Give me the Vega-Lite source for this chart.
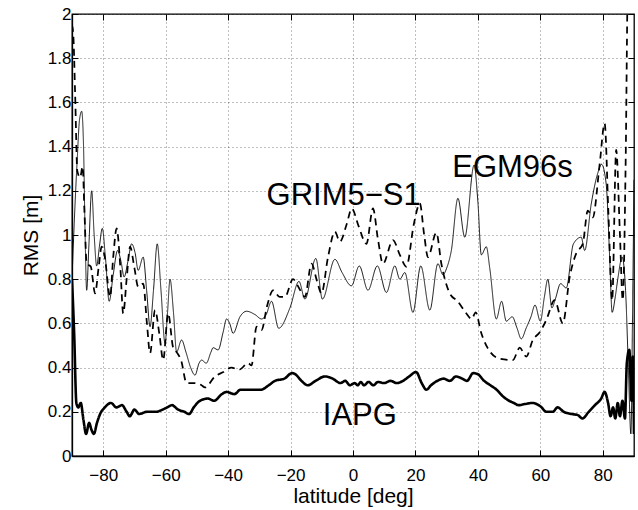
{
  "$schema": "https://vega.github.io/schema/vega-lite/v6.json",
  "width": 562,
  "height": 442,
  "autosize": {"type": "none"},
  "padding": {"left": 72, "top": 14, "right": 4, "bottom": 54},
  "background": "white",
  "config": {
    "view": {"stroke": "black", "strokeWidth": 1.3},
    "font": "Liberation Sans"
  },
  "datasets": {
    "curves": [
      {"lat": -90, "rms": 0.80, "model": "EGM96s"},
      {"lat": -89.3, "rms": 1.05, "model": "EGM96s"},
      {"lat": -88.3, "rms": 1.35, "model": "EGM96s"},
      {"lat": -87.6, "rms": 1.52, "model": "EGM96s"},
      {"lat": -86.9, "rms": 1.56, "model": "EGM96s"},
      {"lat": -86.3, "rms": 1.40, "model": "EGM96s"},
      {"lat": -85.8, "rms": 1.00, "model": "EGM96s"},
      {"lat": -85.3, "rms": 0.75, "model": "EGM96s"},
      {"lat": -84.6, "rms": 0.95, "model": "EGM96s"},
      {"lat": -83.7, "rms": 1.20, "model": "EGM96s"},
      {"lat": -82.9, "rms": 1.00, "model": "EGM96s"},
      {"lat": -82.1, "rms": 0.86, "model": "EGM96s"},
      {"lat": -81.2, "rms": 0.95, "model": "EGM96s"},
      {"lat": -80.3, "rms": 1.03, "model": "EGM96s"},
      {"lat": -79.3, "rms": 0.90, "model": "EGM96s"},
      {"lat": -78.1, "rms": 0.70, "model": "EGM96s"},
      {"lat": -76.8, "rms": 0.82, "model": "EGM96s"},
      {"lat": -75.4, "rms": 0.93, "model": "EGM96s"},
      {"lat": -74.3, "rms": 0.88, "model": "EGM96s"},
      {"lat": -73.3, "rms": 0.81, "model": "EGM96s"},
      {"lat": -72.1, "rms": 0.88, "model": "EGM96s"},
      {"lat": -70.9, "rms": 0.96, "model": "EGM96s"},
      {"lat": -69.8, "rms": 0.92, "model": "EGM96s"},
      {"lat": -68.8, "rms": 0.84, "model": "EGM96s"},
      {"lat": -67.2, "rms": 0.90, "model": "EGM96s"},
      {"lat": -66.1, "rms": 0.75, "model": "EGM96s"},
      {"lat": -65.0, "rms": 0.585, "model": "EGM96s"},
      {"lat": -63.9, "rms": 0.75, "model": "EGM96s"},
      {"lat": -62.7, "rms": 0.96, "model": "EGM96s"},
      {"lat": -61.5, "rms": 0.75, "model": "EGM96s"},
      {"lat": -60.2, "rms": 0.51, "model": "EGM96s"},
      {"lat": -59.4, "rms": 0.65, "model": "EGM96s"},
      {"lat": -58.6, "rms": 0.80, "model": "EGM96s"},
      {"lat": -57.5, "rms": 0.65, "model": "EGM96s"},
      {"lat": -56.5, "rms": 0.47, "model": "EGM96s"},
      {"lat": -54.9, "rms": 0.525, "model": "EGM96s"},
      {"lat": -53.5, "rms": 0.47, "model": "EGM96s"},
      {"lat": -52.0, "rms": 0.40, "model": "EGM96s"},
      {"lat": -50.6, "rms": 0.366, "model": "EGM96s"},
      {"lat": -49.3, "rms": 0.42, "model": "EGM96s"},
      {"lat": -48.5, "rms": 0.434, "model": "EGM96s"},
      {"lat": -47.0, "rms": 0.42, "model": "EGM96s"},
      {"lat": -45.5, "rms": 0.47, "model": "EGM96s"},
      {"lat": -44.8, "rms": 0.49, "model": "EGM96s"},
      {"lat": -43.2, "rms": 0.48, "model": "EGM96s"},
      {"lat": -41.6, "rms": 0.56, "model": "EGM96s"},
      {"lat": -40.5, "rms": 0.62, "model": "EGM96s"},
      {"lat": -39.5, "rms": 0.60, "model": "EGM96s"},
      {"lat": -38.4, "rms": 0.555, "model": "EGM96s"},
      {"lat": -36.2, "rms": 0.63, "model": "EGM96s"},
      {"lat": -34.1, "rms": 0.655, "model": "EGM96s"},
      {"lat": -31.4, "rms": 0.64, "model": "EGM96s"},
      {"lat": -29.3, "rms": 0.62, "model": "EGM96s"},
      {"lat": -27.8, "rms": 0.64, "model": "EGM96s"},
      {"lat": -26.1, "rms": 0.70, "model": "EGM96s"},
      {"lat": -23.8, "rms": 0.578, "model": "EGM96s"},
      {"lat": -20.2, "rms": 0.67, "model": "EGM96s"},
      {"lat": -17.3, "rms": 0.79, "model": "EGM96s"},
      {"lat": -15.4, "rms": 0.71, "model": "EGM96s"},
      {"lat": -11.9, "rms": 0.894, "model": "EGM96s"},
      {"lat": -9.8, "rms": 0.71, "model": "EGM96s"},
      {"lat": -5.8, "rms": 0.89, "model": "EGM96s"},
      {"lat": -3.5, "rms": 0.83, "model": "EGM96s"},
      {"lat": -0.5, "rms": 0.77, "model": "EGM96s"},
      {"lat": 2.0, "rms": 0.86, "model": "EGM96s"},
      {"lat": 4.8, "rms": 0.75, "model": "EGM96s"},
      {"lat": 7.8, "rms": 0.86, "model": "EGM96s"},
      {"lat": 10.7, "rms": 0.74, "model": "EGM96s"},
      {"lat": 13.4, "rms": 0.86, "model": "EGM96s"},
      {"lat": 15.0, "rms": 0.80, "model": "EGM96s"},
      {"lat": 16.6, "rms": 0.83, "model": "EGM96s"},
      {"lat": 19.2, "rms": 0.65, "model": "EGM96s"},
      {"lat": 21.7, "rms": 0.86, "model": "EGM96s"},
      {"lat": 24.6, "rms": 0.66, "model": "EGM96s"},
      {"lat": 27.2, "rms": 0.87, "model": "EGM96s"},
      {"lat": 28.8, "rms": 0.82, "model": "EGM96s"},
      {"lat": 30.0, "rms": 0.85, "model": "EGM96s"},
      {"lat": 31.5, "rms": 0.93, "model": "EGM96s"},
      {"lat": 33.6, "rms": 1.166, "model": "EGM96s"},
      {"lat": 35.8, "rms": 0.99, "model": "EGM96s"},
      {"lat": 38.8, "rms": 1.317, "model": "EGM96s"},
      {"lat": 40.0, "rms": 1.15, "model": "EGM96s"},
      {"lat": 41.1, "rms": 0.91, "model": "EGM96s"},
      {"lat": 42.7, "rms": 0.947, "model": "EGM96s"},
      {"lat": 43.8, "rms": 0.85, "model": "EGM96s"},
      {"lat": 45.9, "rms": 0.62, "model": "EGM96s"},
      {"lat": 47.6, "rms": 0.70, "model": "EGM96s"},
      {"lat": 49.1, "rms": 0.61, "model": "EGM96s"},
      {"lat": 51.0, "rms": 0.63, "model": "EGM96s"},
      {"lat": 52.5, "rms": 0.58, "model": "EGM96s"},
      {"lat": 53.9, "rms": 0.53, "model": "EGM96s"},
      {"lat": 55.5, "rms": 0.58, "model": "EGM96s"},
      {"lat": 57.0, "rms": 0.63, "model": "EGM96s"},
      {"lat": 58.3, "rms": 0.683, "model": "EGM96s"},
      {"lat": 60.0, "rms": 0.61, "model": "EGM96s"},
      {"lat": 61.3, "rms": 0.72, "model": "EGM96s"},
      {"lat": 62.4, "rms": 0.80, "model": "EGM96s"},
      {"lat": 63.7, "rms": 0.67, "model": "EGM96s"},
      {"lat": 64.8, "rms": 0.71, "model": "EGM96s"},
      {"lat": 66.5, "rms": 0.78, "model": "EGM96s"},
      {"lat": 68.3, "rms": 0.76, "model": "EGM96s"},
      {"lat": 70.6, "rms": 0.96, "model": "EGM96s"},
      {"lat": 73.1, "rms": 0.99, "model": "EGM96s"},
      {"lat": 74.2, "rms": 0.93, "model": "EGM96s"},
      {"lat": 76.3, "rms": 1.14, "model": "EGM96s"},
      {"lat": 78.4, "rms": 1.28, "model": "EGM96s"},
      {"lat": 79.6, "rms": 1.32, "model": "EGM96s"},
      {"lat": 81.1, "rms": 1.23, "model": "EGM96s"},
      {"lat": 82.2, "rms": 0.90, "model": "EGM96s"},
      {"lat": 83.0, "rms": 0.65, "model": "EGM96s"},
      {"lat": 84.0, "rms": 0.72, "model": "EGM96s"},
      {"lat": 84.9, "rms": 0.81, "model": "EGM96s"},
      {"lat": 86.2, "rms": 0.90, "model": "EGM96s"},
      {"lat": 87.3, "rms": 0.75, "model": "EGM96s"},
      {"lat": 88.2, "rms": 0.40, "model": "EGM96s"},
      {"lat": 89.0, "rms": 0.10, "model": "EGM96s"},
      {"lat": 89.5, "rms": 0.60, "model": "EGM96s"},
      {"lat": 90.0, "rms": 1.25, "model": "EGM96s"},

      {"lat": -90, "rms": 1.95, "model": "GRIM5-S1"},
      {"lat": -89.6, "rms": 1.91, "model": "GRIM5-S1"},
      {"lat": -89.0, "rms": 1.64, "model": "GRIM5-S1"},
      {"lat": -88.3, "rms": 1.29, "model": "GRIM5-S1"},
      {"lat": -87.4, "rms": 1.26, "model": "GRIM5-S1"},
      {"lat": -86.6, "rms": 1.31, "model": "GRIM5-S1"},
      {"lat": -86.0, "rms": 1.10, "model": "GRIM5-S1"},
      {"lat": -85.3, "rms": 0.87, "model": "GRIM5-S1"},
      {"lat": -84.0, "rms": 0.857, "model": "GRIM5-S1"},
      {"lat": -82.6, "rms": 0.736, "model": "GRIM5-S1"},
      {"lat": -81.5, "rms": 0.85, "model": "GRIM5-S1"},
      {"lat": -80.5, "rms": 0.947, "model": "GRIM5-S1"},
      {"lat": -79.5, "rms": 0.90, "model": "GRIM5-S1"},
      {"lat": -77.8, "rms": 0.72, "model": "GRIM5-S1"},
      {"lat": -76.8, "rms": 0.90, "model": "GRIM5-S1"},
      {"lat": -75.7, "rms": 1.03, "model": "GRIM5-S1"},
      {"lat": -74.5, "rms": 0.85, "model": "GRIM5-S1"},
      {"lat": -73.6, "rms": 0.645, "model": "GRIM5-S1"},
      {"lat": -72.5, "rms": 0.80, "model": "GRIM5-S1"},
      {"lat": -71.4, "rms": 0.947, "model": "GRIM5-S1"},
      {"lat": -70.0, "rms": 0.85, "model": "GRIM5-S1"},
      {"lat": -68.8, "rms": 0.766, "model": "GRIM5-S1"},
      {"lat": -67.2, "rms": 0.78, "model": "GRIM5-S1"},
      {"lat": -66.0, "rms": 0.60, "model": "GRIM5-S1"},
      {"lat": -65.0, "rms": 0.465, "model": "GRIM5-S1"},
      {"lat": -63.4, "rms": 0.66, "model": "GRIM5-S1"},
      {"lat": -62.0, "rms": 0.55, "model": "GRIM5-S1"},
      {"lat": -60.8, "rms": 0.434, "model": "GRIM5-S1"},
      {"lat": -59.2, "rms": 0.645, "model": "GRIM5-S1"},
      {"lat": -57.6, "rms": 0.49, "model": "GRIM5-S1"},
      {"lat": -56.5, "rms": 0.47, "model": "GRIM5-S1"},
      {"lat": -55.0, "rms": 0.43, "model": "GRIM5-S1"},
      {"lat": -53.3, "rms": 0.33, "model": "GRIM5-S1"},
      {"lat": -50.6, "rms": 0.33, "model": "GRIM5-S1"},
      {"lat": -48.5, "rms": 0.32, "model": "GRIM5-S1"},
      {"lat": -47.4, "rms": 0.31, "model": "GRIM5-S1"},
      {"lat": -44.2, "rms": 0.36, "model": "GRIM5-S1"},
      {"lat": -41.5, "rms": 0.38, "model": "GRIM5-S1"},
      {"lat": -38.9, "rms": 0.40, "model": "GRIM5-S1"},
      {"lat": -36.5, "rms": 0.39, "model": "GRIM5-S1"},
      {"lat": -33.6, "rms": 0.42, "model": "GRIM5-S1"},
      {"lat": -32.5, "rms": 0.41, "model": "GRIM5-S1"},
      {"lat": -30.9, "rms": 0.585, "model": "GRIM5-S1"},
      {"lat": -29.3, "rms": 0.57, "model": "GRIM5-S1"},
      {"lat": -27.5, "rms": 0.68, "model": "GRIM5-S1"},
      {"lat": -25.6, "rms": 0.75, "model": "GRIM5-S1"},
      {"lat": -23.5, "rms": 0.72, "model": "GRIM5-S1"},
      {"lat": -21.8, "rms": 0.72, "model": "GRIM5-S1"},
      {"lat": -19.2, "rms": 0.80, "model": "GRIM5-S1"},
      {"lat": -17.3, "rms": 0.76, "model": "GRIM5-S1"},
      {"lat": -15.4, "rms": 0.72, "model": "GRIM5-S1"},
      {"lat": -13.3, "rms": 0.87, "model": "GRIM5-S1"},
      {"lat": -11.5, "rms": 0.79, "model": "GRIM5-S1"},
      {"lat": -10.1, "rms": 0.736, "model": "GRIM5-S1"},
      {"lat": -8.0, "rms": 0.90, "model": "GRIM5-S1"},
      {"lat": -5.8, "rms": 1.015, "model": "GRIM5-S1"},
      {"lat": -4.2, "rms": 0.97, "model": "GRIM5-S1"},
      {"lat": -2.0, "rms": 1.05, "model": "GRIM5-S1"},
      {"lat": -0.4, "rms": 1.12, "model": "GRIM5-S1"},
      {"lat": 1.8, "rms": 1.04, "model": "GRIM5-S1"},
      {"lat": 4.3, "rms": 0.96, "model": "GRIM5-S1"},
      {"lat": 6.4, "rms": 1.12, "model": "GRIM5-S1"},
      {"lat": 8.0, "rms": 0.98, "model": "GRIM5-S1"},
      {"lat": 9.6, "rms": 0.87, "model": "GRIM5-S1"},
      {"lat": 12.8, "rms": 0.977, "model": "GRIM5-S1"},
      {"lat": 15.0, "rms": 0.91, "model": "GRIM5-S1"},
      {"lat": 17.1, "rms": 0.857, "model": "GRIM5-S1"},
      {"lat": 19.5, "rms": 1.05, "model": "GRIM5-S1"},
      {"lat": 21.4, "rms": 1.143, "model": "GRIM5-S1"},
      {"lat": 22.8, "rms": 1.0, "model": "GRIM5-S1"},
      {"lat": 24.0, "rms": 0.90, "model": "GRIM5-S1"},
      {"lat": 26.7, "rms": 1.01, "model": "GRIM5-S1"},
      {"lat": 28.3, "rms": 0.87, "model": "GRIM5-S1"},
      {"lat": 31.0, "rms": 0.736, "model": "GRIM5-S1"},
      {"lat": 33.5, "rms": 0.70, "model": "GRIM5-S1"},
      {"lat": 36.3, "rms": 0.645, "model": "GRIM5-S1"},
      {"lat": 38.0, "rms": 0.62, "model": "GRIM5-S1"},
      {"lat": 39.3, "rms": 0.65, "model": "GRIM5-S1"},
      {"lat": 41.0, "rms": 0.56, "model": "GRIM5-S1"},
      {"lat": 43.2, "rms": 0.487, "model": "GRIM5-S1"},
      {"lat": 47.0, "rms": 0.44, "model": "GRIM5-S1"},
      {"lat": 51.2, "rms": 0.434, "model": "GRIM5-S1"},
      {"lat": 53.4, "rms": 0.49, "model": "GRIM5-S1"},
      {"lat": 55.5, "rms": 0.45, "model": "GRIM5-S1"},
      {"lat": 57.6, "rms": 0.525, "model": "GRIM5-S1"},
      {"lat": 59.8, "rms": 0.56, "model": "GRIM5-S1"},
      {"lat": 61.9, "rms": 0.615, "model": "GRIM5-S1"},
      {"lat": 64.6, "rms": 0.705, "model": "GRIM5-S1"},
      {"lat": 67.2, "rms": 0.60, "model": "GRIM5-S1"},
      {"lat": 69.4, "rms": 0.81, "model": "GRIM5-S1"},
      {"lat": 71.5, "rms": 0.917, "model": "GRIM5-S1"},
      {"lat": 73.6, "rms": 0.96, "model": "GRIM5-S1"},
      {"lat": 75.2, "rms": 1.11, "model": "GRIM5-S1"},
      {"lat": 76.8, "rms": 1.08, "model": "GRIM5-S1"},
      {"lat": 79.0, "rms": 1.32, "model": "GRIM5-S1"},
      {"lat": 80.6, "rms": 1.505, "model": "GRIM5-S1"},
      {"lat": 81.8, "rms": 1.10, "model": "GRIM5-S1"},
      {"lat": 83.0, "rms": 0.705, "model": "GRIM5-S1"},
      {"lat": 84.3, "rms": 1.385, "model": "GRIM5-S1"},
      {"lat": 85.5, "rms": 1.00, "model": "GRIM5-S1"},
      {"lat": 86.4, "rms": 0.705, "model": "GRIM5-S1"},
      {"lat": 87.3, "rms": 1.30, "model": "GRIM5-S1"},
      {"lat": 88.1, "rms": 2.20, "model": "GRIM5-S1"},
      {"lat": 90.0, "rms": 2.40, "model": "GRIM5-S1"},

      {"lat": -90, "rms": 0.80, "model": "IAPG"},
      {"lat": -89.3, "rms": 0.55, "model": "IAPG"},
      {"lat": -88.6, "rms": 0.24, "model": "IAPG"},
      {"lat": -88.0, "rms": 0.22, "model": "IAPG"},
      {"lat": -87.2, "rms": 0.24, "model": "IAPG"},
      {"lat": -86.3, "rms": 0.16, "model": "IAPG"},
      {"lat": -85.5, "rms": 0.10, "model": "IAPG"},
      {"lat": -84.5, "rms": 0.15, "model": "IAPG"},
      {"lat": -83.8, "rms": 0.12, "model": "IAPG"},
      {"lat": -83.0, "rms": 0.10, "model": "IAPG"},
      {"lat": -82.0, "rms": 0.15, "model": "IAPG"},
      {"lat": -81.0, "rms": 0.19, "model": "IAPG"},
      {"lat": -79.5, "rms": 0.22, "model": "IAPG"},
      {"lat": -77.5, "rms": 0.24, "model": "IAPG"},
      {"lat": -75.8, "rms": 0.22, "model": "IAPG"},
      {"lat": -74.0, "rms": 0.23, "model": "IAPG"},
      {"lat": -72.5, "rms": 0.20, "model": "IAPG"},
      {"lat": -71.5, "rms": 0.18, "model": "IAPG"},
      {"lat": -70.0, "rms": 0.21, "model": "IAPG"},
      {"lat": -68.5, "rms": 0.19, "model": "IAPG"},
      {"lat": -66.0, "rms": 0.20, "model": "IAPG"},
      {"lat": -63.0, "rms": 0.20, "model": "IAPG"},
      {"lat": -61.0, "rms": 0.21, "model": "IAPG"},
      {"lat": -59.5, "rms": 0.22, "model": "IAPG"},
      {"lat": -58.0, "rms": 0.23, "model": "IAPG"},
      {"lat": -56.0, "rms": 0.21, "model": "IAPG"},
      {"lat": -54.0, "rms": 0.20, "model": "IAPG"},
      {"lat": -52.5, "rms": 0.19, "model": "IAPG"},
      {"lat": -51.0, "rms": 0.22, "model": "IAPG"},
      {"lat": -49.0, "rms": 0.25, "model": "IAPG"},
      {"lat": -46.5, "rms": 0.26, "model": "IAPG"},
      {"lat": -44.5, "rms": 0.25, "model": "IAPG"},
      {"lat": -42.0, "rms": 0.28, "model": "IAPG"},
      {"lat": -40.5, "rms": 0.29, "model": "IAPG"},
      {"lat": -38.0, "rms": 0.28, "model": "IAPG"},
      {"lat": -36.0, "rms": 0.30, "model": "IAPG"},
      {"lat": -32.0, "rms": 0.30, "model": "IAPG"},
      {"lat": -29.5, "rms": 0.30, "model": "IAPG"},
      {"lat": -27.0, "rms": 0.32, "model": "IAPG"},
      {"lat": -25.0, "rms": 0.34, "model": "IAPG"},
      {"lat": -22.0, "rms": 0.35, "model": "IAPG"},
      {"lat": -19.5, "rms": 0.375, "model": "IAPG"},
      {"lat": -18.5, "rms": 0.37, "model": "IAPG"},
      {"lat": -16.5, "rms": 0.34, "model": "IAPG"},
      {"lat": -14.5, "rms": 0.32, "model": "IAPG"},
      {"lat": -12.0, "rms": 0.34, "model": "IAPG"},
      {"lat": -9.0, "rms": 0.36, "model": "IAPG"},
      {"lat": -6.5, "rms": 0.35, "model": "IAPG"},
      {"lat": -4.0, "rms": 0.33, "model": "IAPG"},
      {"lat": -2.5, "rms": 0.34, "model": "IAPG"},
      {"lat": -1.0, "rms": 0.32, "model": "IAPG"},
      {"lat": 0.5, "rms": 0.33, "model": "IAPG"},
      {"lat": 1.5, "rms": 0.32, "model": "IAPG"},
      {"lat": 2.5, "rms": 0.335, "model": "IAPG"},
      {"lat": 3.5, "rms": 0.32, "model": "IAPG"},
      {"lat": 5.0, "rms": 0.335, "model": "IAPG"},
      {"lat": 6.5, "rms": 0.32, "model": "IAPG"},
      {"lat": 8.0, "rms": 0.335, "model": "IAPG"},
      {"lat": 10.0, "rms": 0.33, "model": "IAPG"},
      {"lat": 12.0, "rms": 0.34, "model": "IAPG"},
      {"lat": 14.0, "rms": 0.33, "model": "IAPG"},
      {"lat": 16.0, "rms": 0.34, "model": "IAPG"},
      {"lat": 18.0, "rms": 0.36, "model": "IAPG"},
      {"lat": 20.2, "rms": 0.38, "model": "IAPG"},
      {"lat": 22.0, "rms": 0.33, "model": "IAPG"},
      {"lat": 23.5, "rms": 0.30, "model": "IAPG"},
      {"lat": 25.0, "rms": 0.32, "model": "IAPG"},
      {"lat": 27.0, "rms": 0.34, "model": "IAPG"},
      {"lat": 29.0, "rms": 0.35, "model": "IAPG"},
      {"lat": 31.0, "rms": 0.34, "model": "IAPG"},
      {"lat": 33.0, "rms": 0.36, "model": "IAPG"},
      {"lat": 35.0, "rms": 0.35, "model": "IAPG"},
      {"lat": 36.5, "rms": 0.34, "model": "IAPG"},
      {"lat": 38.5, "rms": 0.375, "model": "IAPG"},
      {"lat": 40.0, "rms": 0.37, "model": "IAPG"},
      {"lat": 42.0, "rms": 0.34, "model": "IAPG"},
      {"lat": 44.0, "rms": 0.32, "model": "IAPG"},
      {"lat": 46.0, "rms": 0.30, "model": "IAPG"},
      {"lat": 48.0, "rms": 0.27, "model": "IAPG"},
      {"lat": 50.0, "rms": 0.25, "model": "IAPG"},
      {"lat": 51.5, "rms": 0.24, "model": "IAPG"},
      {"lat": 53.0, "rms": 0.23, "model": "IAPG"},
      {"lat": 55.0, "rms": 0.235, "model": "IAPG"},
      {"lat": 57.5, "rms": 0.24, "model": "IAPG"},
      {"lat": 60.0, "rms": 0.225, "model": "IAPG"},
      {"lat": 62.0, "rms": 0.20, "model": "IAPG"},
      {"lat": 64.0, "rms": 0.20, "model": "IAPG"},
      {"lat": 65.5, "rms": 0.22, "model": "IAPG"},
      {"lat": 67.5, "rms": 0.20, "model": "IAPG"},
      {"lat": 70.0, "rms": 0.19, "model": "IAPG"},
      {"lat": 72.0, "rms": 0.185, "model": "IAPG"},
      {"lat": 73.5, "rms": 0.17, "model": "IAPG"},
      {"lat": 75.5, "rms": 0.20, "model": "IAPG"},
      {"lat": 77.5, "rms": 0.23, "model": "IAPG"},
      {"lat": 79.5, "rms": 0.26, "model": "IAPG"},
      {"lat": 80.6, "rms": 0.29, "model": "IAPG"},
      {"lat": 81.7, "rms": 0.24, "model": "IAPG"},
      {"lat": 82.5, "rms": 0.18, "model": "IAPG"},
      {"lat": 83.3, "rms": 0.22, "model": "IAPG"},
      {"lat": 84.0, "rms": 0.17, "model": "IAPG"},
      {"lat": 84.8, "rms": 0.24, "model": "IAPG"},
      {"lat": 85.5, "rms": 0.18, "model": "IAPG"},
      {"lat": 86.3, "rms": 0.25, "model": "IAPG"},
      {"lat": 87.1, "rms": 0.17, "model": "IAPG"},
      {"lat": 87.7, "rms": 0.42, "model": "IAPG"},
      {"lat": 88.5, "rms": 0.48, "model": "IAPG"},
      {"lat": 89.2, "rms": 0.25, "model": "IAPG"},
      {"lat": 89.6, "rms": 0.45, "model": "IAPG"},
      {"lat": 90.0, "rms": 0.10, "model": "IAPG"}
    ],
    "labels": [
      {"lat": -3.0, "rms": 1.136, "text": "GRIM5−S1"},
      {"lat": 51.1, "rms": 1.264, "text": "EGM96s"},
      {"lat": 2.2, "rms": 0.14, "text": "IAPG"}
    ]
  },
  "layer": [
    {
      "data": {"name": "curves"},
      "mark": {"type": "line", "clip": true, "color": "black", "strokeCap": "butt", "strokeJoin": "round", "interpolate": "monotone"},
      "encoding": {
        "x": {
          "field": "lat", "type": "quantitative",
          "scale": {"domain": [-90, 90], "nice": false, "zero": false},
          "axis": {
            "values": [-80, -60, -40, -20, 0, 20, 40, 60, 80],
            "format": "d",
            "title": "latitude [deg]",
            "titleFont": "Liberation Sans", "titleFontSize": 21, "titleFontWeight": "normal", "titleColor": "black",
            "titleBaseline": "alphabetic", "titleY": 46,
            "labelFont": "Liberation Sans", "labelFontSize": 17, "labelColor": "black", "labelPadding": 17,
            "domainColor": "black", "domainWidth": 1.3,
            "tickColor": "black", "tickSize": -6, "tickWidth": 1,
            "grid": true, "gridColor": "black", "gridDash": [1, 3], "gridOpacity": 0.5, "gridWidth": 1
          }
        },
        "y": {
          "field": "rms", "type": "quantitative",
          "scale": {"domain": [0, 2], "nice": false, "zero": false},
          "axis": {
            "values": [0, 0.2, 0.4, 0.6, 0.8, 1, 1.2, 1.4, 1.6, 1.8, 2],
            "format": "~g",
            "title": "RMS [m]",
            "titleFont": "Liberation Sans", "titleFontSize": 21, "titleFontWeight": "normal", "titleColor": "black",
            "titlePadding": 6,
            "labelFont": "Liberation Sans", "labelFontSize": 17, "labelColor": "black", "labelPadding": 7,
            "domainColor": "black", "domainWidth": 1.3,
            "tickColor": "black", "tickSize": -6, "tickWidth": 1,
            "grid": true, "gridColor": "black", "gridDash": [1, 3], "gridOpacity": 0.5, "gridWidth": 1
          }
        },
        "detail": {"field": "model", "type": "nominal"},
        "strokeDash": {
          "field": "model", "type": "nominal",
          "scale": {"domain": ["EGM96s", "GRIM5-S1", "IAPG"], "range": [[1, 0], [7, 5], [1, 0]]},
          "legend": null
        },
        "strokeWidth": {
          "field": "model", "type": "nominal",
          "scale": {"domain": ["EGM96s", "GRIM5-S1", "IAPG"], "range": [0.9, 2.6, 2.6]},
          "legend": null
        }
      }
    },
    {
      "data": {"name": "labels"},
      "mark": {"type": "text", "align": "center", "baseline": "alphabetic", "font": "Liberation Sans", "fontSize": 31, "color": "black"},
      "encoding": {
        "x": {"field": "lat", "type": "quantitative", "axis": {"orient": "top", "values": [-80, -60, -40, -20, 0, 20, 40, 60, 80], "labels": false, "title": null, "domain": false, "grid": false, "tickColor": "black", "tickSize": -6}},
        "y": {"field": "rms", "type": "quantitative", "axis": {"orient": "right", "values": [0, 0.2, 0.4, 0.6, 0.8, 1, 1.2, 1.4, 1.6, 1.8, 2], "labels": false, "title": null, "domain": false, "grid": false, "tickColor": "black", "tickSize": -6}},
        "text": {"field": "text", "type": "nominal"}
      }
    }
  ],
  "resolve": {"axis": {"x": "independent", "y": "independent"}}
}
